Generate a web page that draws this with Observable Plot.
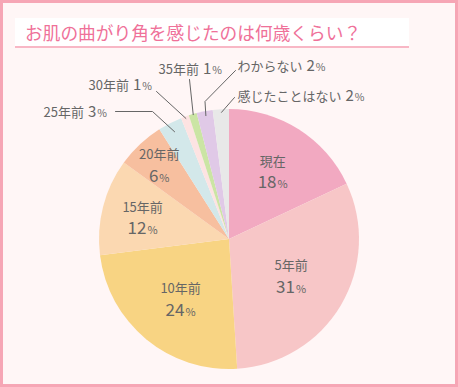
<!DOCTYPE html>
<html>
<head>
<meta charset="utf-8">
<script src="https://cdn.jsdelivr.net/npm/d3@7"></script>
<script src="https://cdn.jsdelivr.net/npm/@observablehq/plot@0.6"></script>
<style>
  html, body { margin: 0; padding: 0; background: #fff6f6; }
  body { position: relative; width: 458px; height: 387px; overflow: hidden; font-family: "Noto Sans CJK JP", sans-serif; }
  #frame { position: absolute; left: 0; top: 0; width: 458px; height: 387px; box-sizing: border-box; border: 3px solid #f6a6b5; background: #fff6f6; }
  #title { position: absolute; left: 15px; top: 18px; width: 384px; height: 28px; background: #ffffff; border-bottom: 2px solid #f8b7c5; color: #ef7199; font-size: 17.7px; line-height: 28px; padding-left: 10px; box-sizing: content-box; white-space: nowrap; }
  #chart { position: absolute; left: 0; top: 0; }
</style>
</head>
<body>
<div id="frame"></div>
<div id="title">お肌の曲がり角を感じたのは何歳くらい？</div>
<div id="chart"></div>
<script>
// ---- data ----
const categories = ["現在", "5年前", "10年前", "15年前", "20年前", "25年前", "30年前", "35年前", "わからない", "感じたことはない"];
const values = [18, 31, 24, 12, 6, 3, 1, 1, 2, 2];
const colors = ["#f2a9c1", "#f7c6c7", "#f8d483", "#fbd8b1", "#f7bf9f", "#d3e8ea", "#fde3e2", "#cbe5a4", "#e0c9e7", "#e8e8e8"];
const insideCategories = ["現在", "5年前", "10年前", "15年前", "20年前"];

// ---- layout (styling, not data) ----
const cx = 229, cy = 239, R = 130;
const textColor = "#666666";
const fontFamily = '"Noto Sans CJK JP", sans-serif';
const innerRadius = {"現在": 0.62, "5年前": 0.55, "10年前": 0.59, "15年前": 0.69, "20年前": 0.79};
// outer labels: text anchor (px) and leader path (px) before reaching slice
const outerLayout = {
  "25年前": {text: [43, 111], path: [[115, 111], [152, 111]], endR: 0.93},
  "30年前": {text: [88, 84], path: [[156, 91]], endR: 0.99},
  "35年前": {text: [158, 68], path: [[189, 79]], endR: 1.0},
  "わからない": {text: [237, 65], path: [[235, 70], [204.5, 101]], endR: 0.97},
  "感じたことはない": {text: [237, 95], path: [[234, 97]], endR: 0.98}
};

const ux = px => (px - cx) / R;
const uy = py => (cy - py) / R;

const table = categories.map((c, i) => ({name: c, value: values[i], color: colors[i]}));
const arcs = d3.pie().sort(null).value(d => d.value).startAngle(0).endAngle(2 * Math.PI)(table);
arcs.forEach(a => { a.mid = (a.startAngle + a.endAngle) / 2; });

// text measurement
const ctx = document.createElement("canvas").getContext("2d");
function measure(str, size) { ctx.font = `${size}px ${fontFamily}`; return ctx.measureText(str).width; }

const nameSize = 13, bigNum = 17, pctSize = 11, outNum = 15, outPct = 10.5;

// inside labels
const inner = arcs.filter(a => insideCategories.includes(a.data.name)).map(a => {
  const r = innerRadius[a.data.name];
  const px = cx + R * r * Math.sin(a.mid), py = cy - R * r * Math.cos(a.mid);
  const numW = measure(String(a.data.value), bigNum), pW = measure("%", pctSize);
  const start = px - (numW + pW + 1) / 2;
  return {
    name: a.data.name, value: a.data.value,
    x: ux(px), nameY: uy(py - 5.5),
    numX: ux(start), pctX: ux(start + numW + 1), numY: uy(py + 17)
  };
});

// outside labels
const outer = arcs.filter(a => outerLayout[a.data.name]).map(a => {
  const L = outerLayout[a.data.name];
  const [tx, ty] = L.text;
  const nameW = measure(a.data.name, nameSize);
  const numW = measure(String(a.data.value), outNum);
  return {
    name: a.data.name, value: a.data.value,
    x: ux(tx), y: uy(ty + 5),
    numX: ux(tx + nameW + 4), pctX: ux(tx + nameW + 4 + numW + 1)
  };
});
const leaders = [];
arcs.filter(a => outerLayout[a.data.name]).forEach(a => {
  const L = outerLayout[a.data.name];
  L.path.forEach(([px, py]) => leaders.push({name: a.data.name, x: ux(px), y: uy(py)}));
  leaders.push({name: a.data.name, x: L.endR * Math.sin(a.mid), y: L.endR * Math.cos(a.mid)});
});

// pie render function mark using Plot's scales
function pieMark(index, scales) {
  const x = scales.x, y = scales.y;
  const ox = x(0), oy = y(0), r = x(1) - x(0);
  const g = d3.create("svg:g").attr("transform", `translate(${ox},${oy})`);
  const arc = d3.arc().innerRadius(0).outerRadius(r);
  g.selectAll("path").data(arcs).join("path")
    .attr("d", arc)
    .attr("fill", d => d.data.color);
  return g.node();
}

const chart = Plot.plot({
  width: 458,
  height: 387,
  margin: 0,
  style: {background: "transparent", fontFamily},
  x: {domain: [-1, 1], range: [cx - R, cx + R], axis: null},
  y: {domain: [-1, 1], range: [cy + R, cy - R], axis: null},
  marks: [
    pieMark,
    Plot.line(leaders, {x: "x", y: "y", z: "name", stroke: textColor, strokeWidth: 1}),
    Plot.text(inner, {x: "x", y: "nameY", text: "name", fontSize: nameSize, fill: textColor, lineAnchor: "bottom", fontFamily}),
    Plot.text(inner, {x: "numX", y: "numY", text: d => String(d.value), fontSize: bigNum, fill: textColor, textAnchor: "start", lineAnchor: "bottom", fontFamily}),
    Plot.text(inner, {x: "pctX", y: "numY", text: d => "%", fontSize: pctSize, fill: textColor, textAnchor: "start", lineAnchor: "bottom", fontFamily}),
    Plot.text(outer, {x: "x", y: "y", text: "name", fontSize: nameSize, fill: textColor, textAnchor: "start", lineAnchor: "bottom", fontFamily}),
    Plot.text(outer, {x: "numX", y: "y", text: d => String(d.value), fontSize: outNum, fill: textColor, textAnchor: "start", lineAnchor: "bottom", fontFamily}),
    Plot.text(outer, {x: "pctX", y: "y", text: d => "%", fontSize: outPct, fill: textColor, textAnchor: "start", lineAnchor: "bottom", fontFamily})
  ]
});
document.getElementById("chart").appendChild(chart);
</script>
</body>
</html>
